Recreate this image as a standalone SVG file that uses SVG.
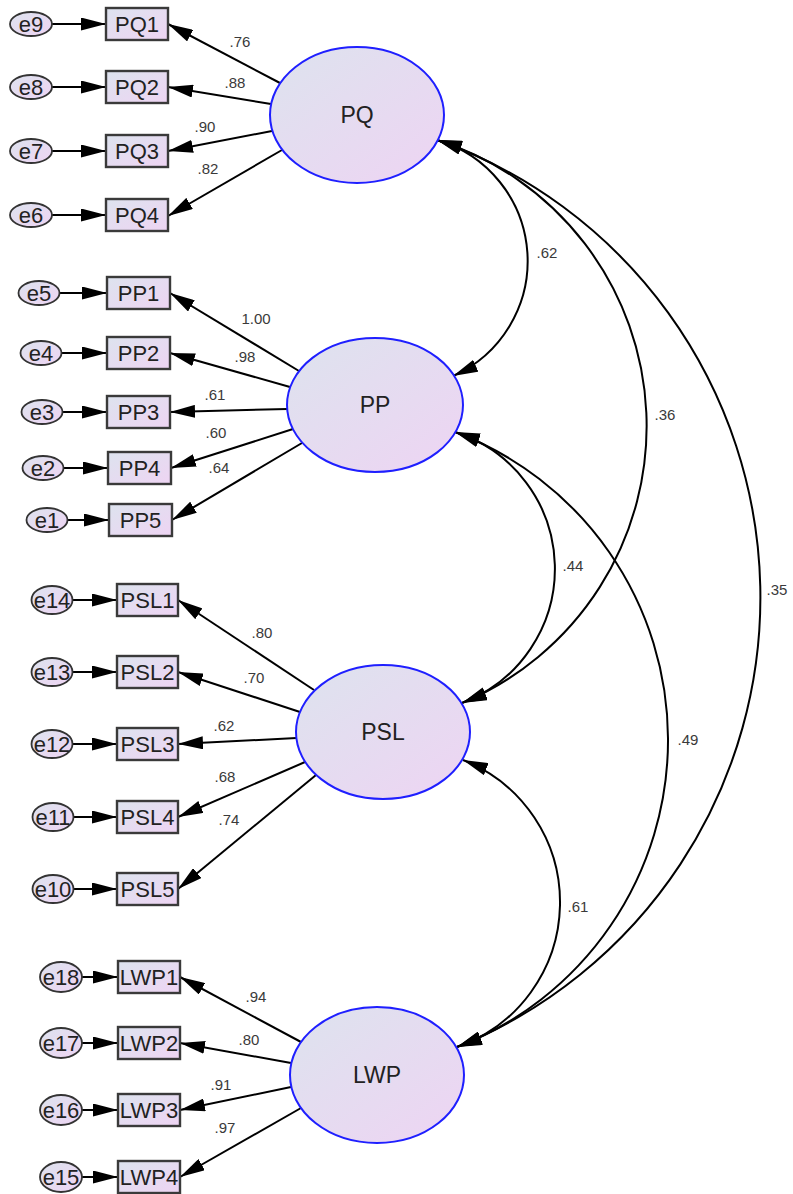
<svg xmlns="http://www.w3.org/2000/svg" width="793" height="1194" viewBox="0 0 793 1194">
<defs>
<linearGradient id="g" x1="0" y1="0" x2="1" y2="1">
<stop offset="0" stop-color="#dde3ee"/>
<stop offset="1" stop-color="#eed4f3"/>
</linearGradient>
<marker id="arr" markerUnits="userSpaceOnUse" markerWidth="25" markerHeight="13" refX="25" refY="6.5" orient="auto-start-reverse" viewBox="0 0 25 13">
<path d="M0,0 L25,6.5 L0,13 z" fill="#000"/>
</marker>
<style>
.lat{fill:url(#g);stroke:#1f1fff;stroke-width:2}
.box{fill:url(#g);stroke:#3a3a3a;stroke-width:2.4}
.err{fill:url(#g);stroke:#333;stroke-width:1.8}
.t{font-family:"Liberation Sans",Arial,sans-serif;font-size:22px;fill:#222;text-anchor:middle}
.lt{font-family:"Liberation Sans",Arial,sans-serif;font-size:23px;fill:#222;text-anchor:middle}
.n{font-family:"Liberation Sans",Arial,sans-serif;font-size:15px;fill:#3a3a3a;text-anchor:middle}
.c line,.c path{stroke:#000;stroke-width:2;fill:none;marker-end:url(#arr)}
.c path.cov{marker-start:url(#arr)}
</style>
</defs>
<rect width="793" height="1194" fill="#fff"/>

<g id="connectors" class="c">
<line x1="52" y1="24" x2="106" y2="24"/>
<line x1="52" y1="87" x2="106" y2="87"/>
<line x1="52" y1="151" x2="106" y2="151"/>
<line x1="52" y1="215" x2="106" y2="215"/>
<line x1="59.5" y1="293" x2="107" y2="293"/>
<line x1="61.5" y1="353" x2="107" y2="353"/>
<line x1="62.5" y1="412" x2="107" y2="412"/>
<line x1="63.5" y1="468" x2="108" y2="468"/>
<line x1="67.5" y1="520" x2="109" y2="520"/>
<line x1="72.5" y1="600" x2="117" y2="600"/>
<line x1="72.5" y1="672" x2="117" y2="672"/>
<line x1="72.5" y1="744" x2="117" y2="744"/>
<line x1="73.5" y1="817" x2="117" y2="817"/>
<line x1="73.5" y1="889" x2="117" y2="889"/>
<line x1="82" y1="977" x2="118" y2="977"/>
<line x1="82" y1="1043" x2="118" y2="1043"/>
<line x1="82" y1="1110" x2="118" y2="1110"/>
<line x1="82" y1="1177" x2="118" y2="1177"/>
<line x1="280" y1="83" x2="168" y2="24"/>
<line x1="271" y1="104" x2="168" y2="87"/>
<line x1="272" y1="131" x2="168" y2="151"/>
<line x1="282" y1="150" x2="168" y2="216"/>
<line x1="299" y1="371" x2="170" y2="293"/>
<line x1="290" y1="387" x2="170" y2="353"/>
<line x1="287.5" y1="409" x2="170" y2="412"/>
<line x1="293" y1="429" x2="171" y2="468"/>
<line x1="302" y1="443" x2="172" y2="520"/>
<line x1="314" y1="690" x2="178" y2="600"/>
<line x1="300" y1="712" x2="178" y2="672"/>
<line x1="296.5" y1="738" x2="178" y2="744"/>
<line x1="305" y1="762" x2="178" y2="817"/>
<line x1="316" y1="775" x2="178" y2="889"/>
<line x1="301" y1="1042" x2="180" y2="977"/>
<line x1="291" y1="1063" x2="180" y2="1043"/>
<line x1="291" y1="1087" x2="180" y2="1110"/>
<line x1="301" y1="1108" x2="180" y2="1177"/>
<path class="cov" d="M437,140 A126,126 0 0 1 453,376"/>
<path class="cov" d="M437,140 A300,300 0 0 1 462,703"/>
<path class="cov" d="M437,140 A485,485 0 0 1 457,1047"/>
<path class="cov" d="M455,432 A143.5,143.5 0 0 1 462,703"/>
<path class="cov" d="M455,432 A329,329 0 0 1 457,1047"/>
<path class="cov" d="M463,760 A153,153 0 0 1 457,1047"/>
</g>

<g id="labels">
<text class="n" x="240" y="47">.76</text>
<text class="n" x="235" y="88">.88</text>
<text class="n" x="205" y="132">.90</text>
<text class="n" x="208" y="174">.82</text>
<text class="n" x="256" y="324">1.00</text>
<text class="n" x="245" y="362">.98</text>
<text class="n" x="215" y="400">.61</text>
<text class="n" x="216" y="438">.60</text>
<text class="n" x="219" y="473">.64</text>
<text class="n" x="262" y="638">.80</text>
<text class="n" x="254" y="683">.70</text>
<text class="n" x="224" y="731">.62</text>
<text class="n" x="225" y="782">.68</text>
<text class="n" x="229" y="825">.74</text>
<text class="n" x="256" y="1002">.94</text>
<text class="n" x="249" y="1045">.80</text>
<text class="n" x="221" y="1090">.91</text>
<text class="n" x="225" y="1133">.97</text>
<text class="n" x="547" y="258">.62</text>
<text class="n" x="665" y="420">.36</text>
<text class="n" x="573" y="571">.44</text>
<text class="n" x="777" y="595">.35</text>
<text class="n" x="688" y="745">.49</text>
<text class="n" x="578" y="912">.61</text>
</g>

<g id="PQ"><ellipse class="lat" cx="357" cy="115" rx="87" ry="68"/><text class="lt" x="357" y="123">PQ</text></g>
<g id="PP"><ellipse class="lat" cx="375" cy="405" rx="88" ry="67"/><text class="lt" x="375" y="413">PP</text></g>
<g id="PSL"><ellipse class="lat" cx="383" cy="732" rx="87" ry="67"/><text class="lt" x="383" y="740">PSL</text></g>
<g id="LWP"><ellipse class="lat" cx="377" cy="1075" rx="87" ry="68"/><text class="lt" x="377" y="1083">LWP</text></g>

<g id="PQ1"><rect class="box" x="106" y="8" width="62" height="32"/><text class="t" x="137" y="32">PQ1</text></g>
<g id="PQ2"><rect class="box" x="106" y="71" width="62" height="32"/><text class="t" x="137" y="95">PQ2</text></g>
<g id="PQ3"><rect class="box" x="106" y="135" width="62" height="32"/><text class="t" x="137" y="159">PQ3</text></g>
<g id="PQ4"><rect class="box" x="106" y="199" width="62" height="32"/><text class="t" x="137" y="223">PQ4</text></g>
<g id="PP1"><rect class="box" x="107" y="277" width="63" height="32"/><text class="t" x="138.5" y="301">PP1</text></g>
<g id="PP2"><rect class="box" x="107" y="337" width="63" height="32"/><text class="t" x="138.5" y="361">PP2</text></g>
<g id="PP3"><rect class="box" x="107" y="396" width="63" height="32"/><text class="t" x="138.5" y="420">PP3</text></g>
<g id="PP4"><rect class="box" x="108" y="452" width="63" height="32"/><text class="t" x="139.5" y="476">PP4</text></g>
<g id="PP5"><rect class="box" x="109" y="504" width="63" height="32"/><text class="t" x="140.5" y="528">PP5</text></g>
<g id="PSL1"><rect class="box" x="117" y="584" width="61" height="32"/><text class="t" x="147.5" y="608">PSL1</text></g>
<g id="PSL2"><rect class="box" x="117" y="656" width="61" height="32"/><text class="t" x="147.5" y="680">PSL2</text></g>
<g id="PSL3"><rect class="box" x="117" y="728" width="61" height="32"/><text class="t" x="147.5" y="752">PSL3</text></g>
<g id="PSL4"><rect class="box" x="117" y="801" width="61" height="32"/><text class="t" x="147.5" y="825">PSL4</text></g>
<g id="PSL5"><rect class="box" x="117" y="873" width="61" height="32"/><text class="t" x="147.5" y="897">PSL5</text></g>
<g id="LWP1"><rect class="box" x="118" y="961" width="62" height="32"/><text class="t" x="149" y="985">LWP1</text></g>
<g id="LWP2"><rect class="box" x="118" y="1027" width="62" height="32"/><text class="t" x="149" y="1051">LWP2</text></g>
<g id="LWP3"><rect class="box" x="118" y="1094" width="62" height="32"/><text class="t" x="149" y="1118">LWP3</text></g>
<g id="LWP4"><rect class="box" x="118" y="1161" width="62" height="32"/><text class="t" x="149" y="1185">LWP4</text></g>

<g id="e9"><ellipse class="err" cx="31" cy="24" rx="21" ry="12"/><text class="t" x="31" y="32">e9</text></g>
<g id="e8"><ellipse class="err" cx="31" cy="87" rx="21" ry="12"/><text class="t" x="31" y="95">e8</text></g>
<g id="e7"><ellipse class="err" cx="31" cy="151" rx="21" ry="12"/><text class="t" x="31" y="159">e7</text></g>
<g id="e6"><ellipse class="err" cx="31" cy="215" rx="21" ry="12"/><text class="t" x="31" y="223">e6</text></g>
<g id="e5"><ellipse class="err" cx="39" cy="293" rx="20.5" ry="12"/><text class="t" x="39" y="301">e5</text></g>
<g id="e4"><ellipse class="err" cx="41" cy="353" rx="20.5" ry="12"/><text class="t" x="41" y="361">e4</text></g>
<g id="e3"><ellipse class="err" cx="42" cy="412" rx="20.5" ry="12"/><text class="t" x="42" y="420">e3</text></g>
<g id="e2"><ellipse class="err" cx="43" cy="468" rx="20.5" ry="12"/><text class="t" x="43" y="476">e2</text></g>
<g id="e1"><ellipse class="err" cx="47" cy="520" rx="20.5" ry="12"/><text class="t" x="47" y="528">e1</text></g>
<g id="e14"><ellipse class="err" cx="52" cy="600" rx="20.5" ry="14"/><text class="t" x="52" y="608">e14</text></g>
<g id="e13"><ellipse class="err" cx="52" cy="672" rx="20.5" ry="14"/><text class="t" x="52" y="680">e13</text></g>
<g id="e12"><ellipse class="err" cx="52" cy="744" rx="20.5" ry="14"/><text class="t" x="52" y="752">e12</text></g>
<g id="e11"><ellipse class="err" cx="53" cy="817" rx="20.5" ry="14"/><text class="t" x="53" y="825">e11</text></g>
<g id="e10"><ellipse class="err" cx="53" cy="889" rx="20.5" ry="14"/><text class="t" x="53" y="897">e10</text></g>
<g id="e18"><ellipse class="err" cx="61" cy="977" rx="21" ry="15"/><text class="t" x="61" y="985">e18</text></g>
<g id="e17"><ellipse class="err" cx="61" cy="1043" rx="21" ry="15"/><text class="t" x="61" y="1051">e17</text></g>
<g id="e16"><ellipse class="err" cx="61" cy="1110" rx="21" ry="15"/><text class="t" x="61" y="1118">e16</text></g>
<g id="e15"><ellipse class="err" cx="61" cy="1177" rx="21" ry="15"/><text class="t" x="61" y="1185">e15</text></g>
</svg>
